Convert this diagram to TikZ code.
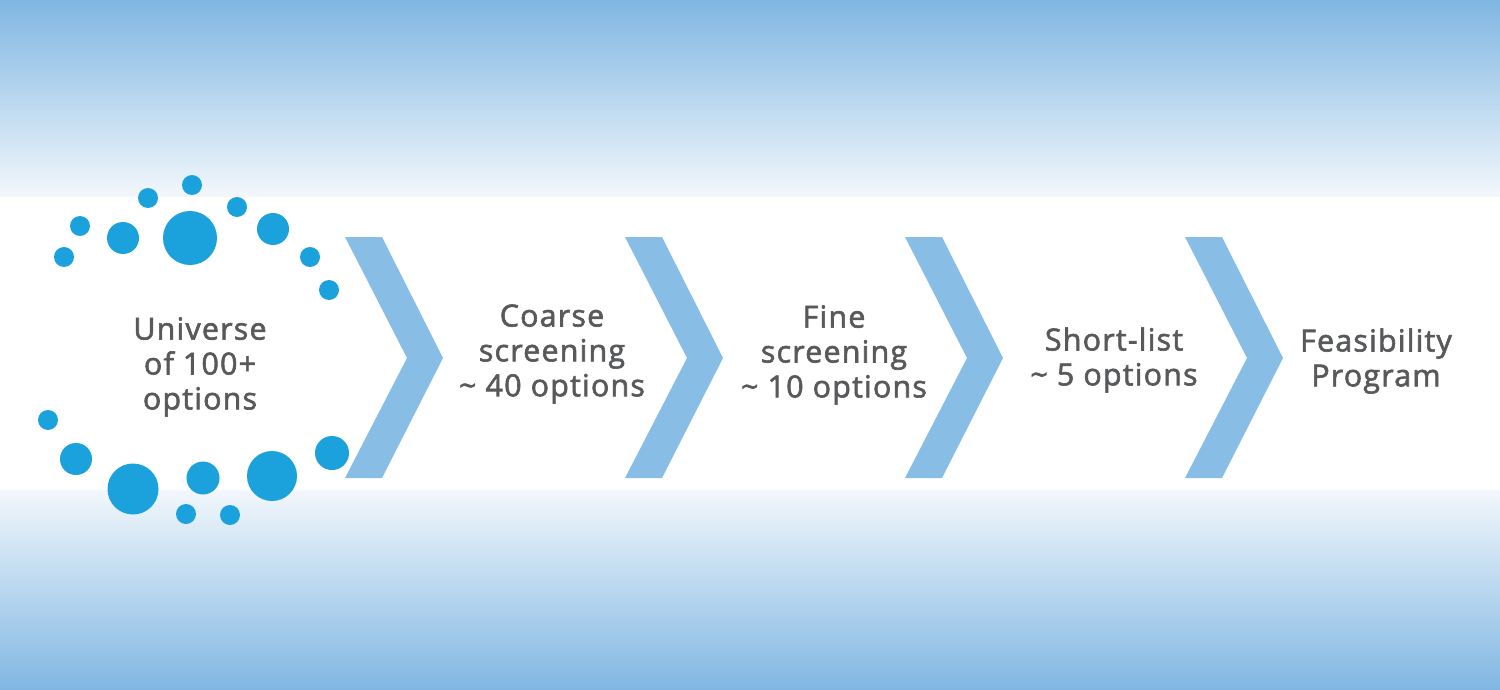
\documentclass[tikz,border=0pt]{standalone}
\usepackage{fontspec}
\setmainfont{Open Sans}
\newfontfamily\labfont[FakeBold=2,LetterSpace=4]{Open Sans}
\definecolor{bgblue}{HTML}{80B6E2}
\definecolor{bglight}{HTML}{F2F7FC}
\definecolor{chevblue}{HTML}{88BDE6}
\definecolor{dotblue}{HTML}{1BA1DB}
\definecolor{txtgray}{HTML}{58595B}
\tikzset{
  dot/.style={fill=dotblue, draw=none},
  chevron/.style={fill=chevblue, draw=none},
  label/.style={text=txtgray, align=center, font=\labfont\fontsize{30.5}{35}\selectfont, inner sep=0pt}
}
\begin{document}
\begin{tikzpicture}[x=1bp,y=-1bp]
\useasboundingbox (0,0) rectangle (1500,690);
\fill[white] (0,0) rectangle (1500,690);
\shade[top color=bgblue, bottom color=bglight] (0,0) rectangle (1500,196);
\shade[top color=bglight, bottom color=bgblue] (0,490) rectangle (1500,690);
% chevrons
\foreach \s in {0,280,560,840}{
  \fill[chevron] (345+\s,237) -- (382+\s,237) -- (443+\s,358) -- (382+\s,478) -- (345+\s,478) -- (407+\s,358) -- cycle;
}
% dots
\foreach \px/\py/\r in {64/257/10, 80/226/10, 123/238/16, 148/198/10, 192/185/10, 190/238/27, 237/207/10, 273/229/16, 310/257/10, 329/290/10,
  48/420/10, 76/459/16, 133/489/25.5, 203/478/16.5, 186/514/10, 230/515/10, 272/476/25, 332/453/17}{
  \fill[dot] (\px,\py) circle (\r);
}
% labels
\node[label] (universe) at (200,367) {Universe\\of 100+\\options};
\node[label] (coarse) at (552,354) {Coarse\\screening\\\textasciitilde{} 40 options};
\node[label] (fine) at (834,355) {Fine\\screening\\\textasciitilde{} 10 options};
\node[label] (short) at (1114,360) {Short-list\\\textasciitilde{} 5 options};
\node[label] (feas) at (1376,361) {Feasibility\\Program};
\end{tikzpicture}
\end{document}
